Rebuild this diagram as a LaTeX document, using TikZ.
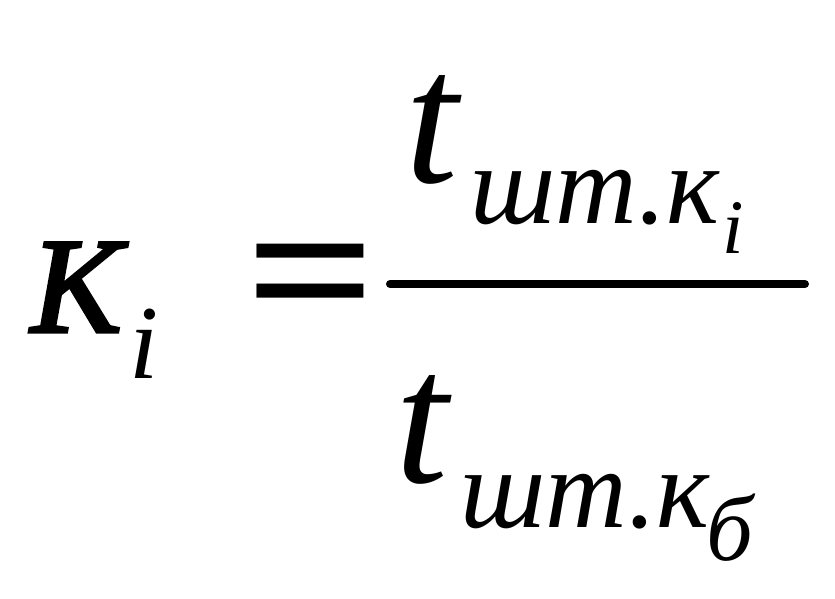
\documentclass[tikz,border=0pt]{standalone}
\usepackage{fontspec}
\setmainfont{Liberation Serif}
\begin{document}
\begin{tikzpicture}[x=1pt,y=-1pt,
  glyph/.style={inner sep=0pt,outer sep=0pt,anchor=base west}]
\useasboundingbox (0,0) rectangle (835,599);
% left side
\node[glyph] (K) at (31,332) {\fontsize{136}{136}\selectfont\itshape\addfontfeature{FakeBold=2.5}К};
\node[glyph] (Ki) at (129,378) {\fontsize{105}{105}\selectfont\itshape i};
\node[glyph,xscale=1.15] (eq) at (245,337) {\fontsize{200}{200}\selectfont\bfseries =};
% fraction line
\coordinate (fl) at (390,284);
\coordinate (fr) at (805,284);
\draw[line width=8pt,line cap=round] (fl) -- (fr);
% numerator
\node[glyph] (nt) at (405,182) {\fontsize{190}{190}\selectfont\itshape t};
\node[glyph] (ns) at (470,223) {\fontsize{113}{113}\selectfont\itshape шт.к};
\node[glyph] (ni) at (722,253) {\fontsize{77}{77}\selectfont\itshape i};
% denominator
\node[glyph] (dt) at (395,482) {\fontsize{190}{190}\selectfont\itshape t};
\node[glyph] (ds) at (460,527) {\fontsize{113}{113}\selectfont\itshape шт.к};
\node[glyph] (db) at (706,560) {\fontsize{93}{93}\selectfont\itshape б};
\end{tikzpicture}
\end{document}
